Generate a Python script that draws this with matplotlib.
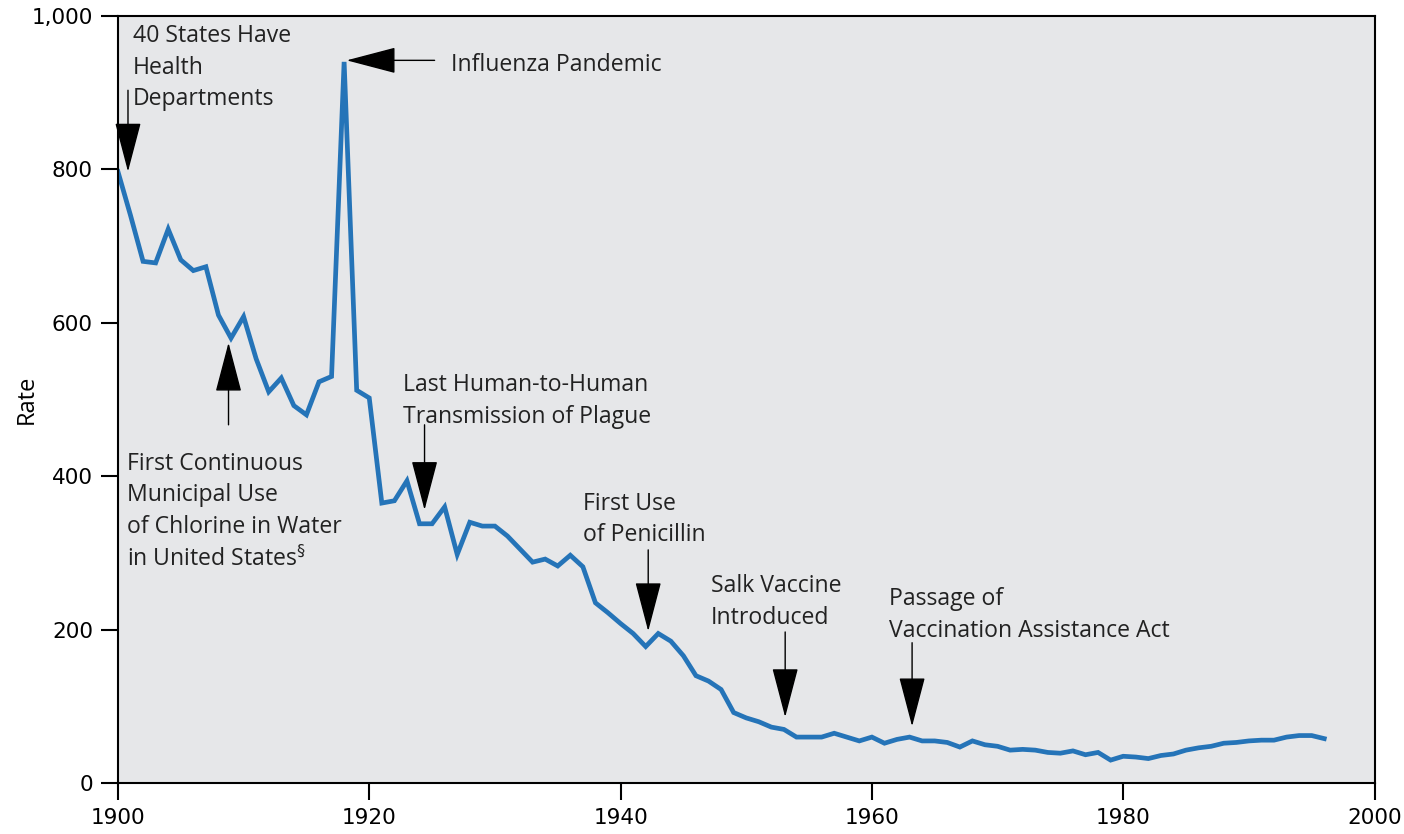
import matplotlib.pyplot as plt

years = list(range(1900, 1997))
rates = [797, 740, 680, 678, 722, 682, 668, 673, 610, 580,
         608, 553, 510, 528, 492, 480, 523, 530, 940, 512,
         502, 365, 368, 394, 338, 338, 360, 298, 340, 335,
         335, 322, 305, 288, 292, 283, 297, 282, 235, 222,
         208, 195, 178, 195, 185, 166, 140, 133, 122, 92,
         85, 80, 73, 70, 60, 60, 60, 65, 60, 55,
         60, 52, 57, 60, 55, 55, 53, 47, 55, 50,
         48, 43, 44, 43, 40, 39, 42, 37, 40, 30,
         35, 34, 32, 36, 38, 43, 46, 48, 52, 53,
         55, 56, 56, 60, 62, 62, 58]

# label, text position, arrow tip, arrow tail
events = [
    ("40 States Have\nHealth\nDepartments", (1901.2, 989), (1900.8, 797), (1900.8, 903)),
    ("Influenza Pandemic", (1926.5, 951), (1918.2, 942), (1925.2, 942)),
    ("First Continuous\nMunicipal Use\nof Chlorine in Water\nin United States$^{\\S}$",
     (1900.7, 432), (1908.8, 574), (1908.8, 467)),
    ("Last Human-to-Human\nTransmission of Plague", (1922.7, 534), (1924.4, 356), (1924.4, 467)),
    ("First Use\nof Penicillin", (1937.0, 380), (1942.2, 198), (1942.2, 304)),
    ("Salk Vaccine\nIntroduced", (1947.2, 272), (1953.1, 86), (1953.1, 197)),
    ("Passage of\nVaccination Assistance Act", (1961.4, 255), (1963.2, 74), (1963.2, 183)),
]

fig = plt.figure(figsize=(14.04, 8.34), dpi=100)
ax = fig.add_axes([0.084, 0.061, 0.895, 0.920])
ax.set_facecolor('#e6e7e9')

ax.plot(years, rates, color='#2574b8', linewidth=3.4, solid_joinstyle='miter')

for label, txt, tip, tail in events:
    ax.annotate('', xy=tip, xytext=tail,
                arrowprops=dict(arrowstyle='-|>,head_length=1.6,head_width=0.42',
                                mutation_scale=20, color='black', lw=1.0,
                                shrinkA=0, shrinkB=0))
    ax.text(txt[0], txt[1], label, ha='left', va='top', fontsize=16.6,
            family='Open Sans', color='#222222', linespacing=1.42)

ax.set_xlim(1900, 2000)
ax.set_ylim(0, 1000)
ax.set_xticks([1900, 1920, 1940, 1960, 1980, 2000])
ax.set_yticks([0, 200, 400, 600, 800, 1000])
ax.set_yticklabels(['0', '200', '400', '600', '800', '1,000'])
ax.tick_params(direction='out', length=12, width=1.5, labelsize=15.5, pad=6)
for s in ax.spines.values():
    s.set_linewidth(1.5)
ax.set_ylabel('Rate', fontsize=17, family='Open Sans')
ax.yaxis.set_label_coords(-0.063, 0.5)

fig.savefig('out.png', dpi=100)
